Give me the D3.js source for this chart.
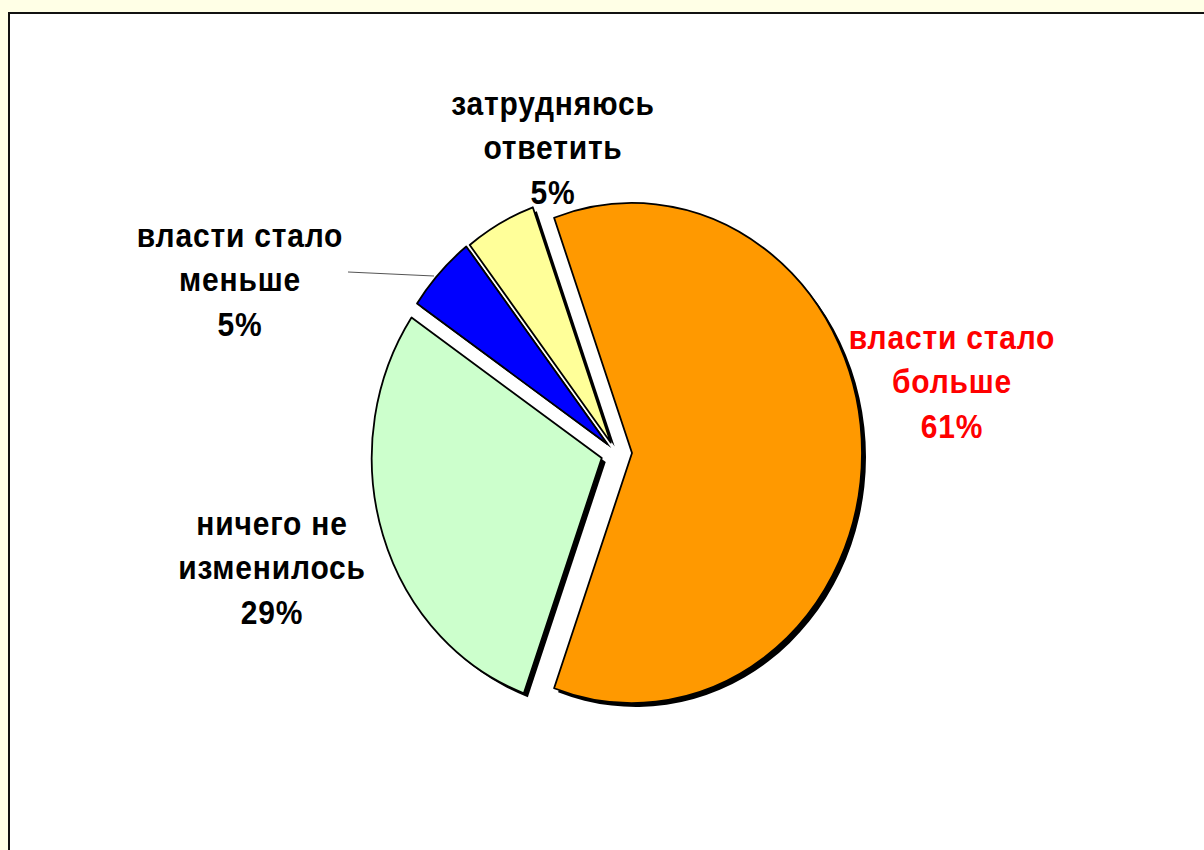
<!DOCTYPE html>
<html>
<head>
<meta charset="utf-8">
<script src="https://cdn.jsdelivr.net/npm/d3@7"></script>
<style>
  body { margin: 0; background: #ffffe6; }
  svg { display: block; }
</style>
</head>
<body>
<div id="chart"></div>
<script>
// slice data, clockwise from the first slice
const categories = ["власти стало больше", "ничего не изменилось", "власти стало меньше", "затрудняюсь ответить"];
const values = [61, 29, 5, 5];
const labelLines = [
    ["власти стало", "больше", "61%"],
    ["ничего не", "изменилось", "29%"],
    ["власти стало", "меньше", "5%"],
    ["затрудняюсь", "ответить", "5%"]
];
const sliceColors = ["#ff9900", "#ccffcc", "#0000ff", "#ffff99"];
const labelColors = ["#ff0000", "#000000", "#000000", "#000000"];
const explode = [16, 15, 12, 11];

const width = 1204;
const height = 850;
const cx = 616, cy = 453;
const rx = 230, ry = 250;
const startDeg = -19.8;

// label centres (layout only)
const labelPos = [
    { x: 952, y: 337 },
    { x: 272, y: 523 },
    { x: 240, y: 235 },
    { x: 553, y: 103 }
];
const lineGap = 44.5;
const textStretch = 1.1;

const svg = d3.select("#chart").append("svg")
    .attr("width", width)
    .attr("height", height);

svg.append("rect")
    .attr("width", width)
    .attr("height", height)
    .attr("fill", "#ffffe6");

svg.append("rect")
    .attr("x", 9)
    .attr("y", 13)
    .attr("width", width)
    .attr("height", height)
    .attr("fill", "#ffffff")
    .attr("stroke", "#111")
    .attr("stroke-width", 2);

const data = categories.map((c, i) => ({ name: c, value: values[i], i }));

const pie = d3.pie()
    .sort(null)
    .value(d => d.value)
    .startAngle(startDeg * Math.PI / 180)
    .endAngle(startDeg * Math.PI / 180 + 2 * Math.PI);

const arcs = pie(data);
const arc = d3.arc().innerRadius(0).outerRadius(rx);

function offset(d) {
    const a = (d.startAngle + d.endAngle) / 2;
    const e = explode[d.data.i];
    return [Math.sin(a) * e, -Math.cos(a) * e];
}

// shadows
const shadow = svg.append("g")
    .attr("transform", `translate(${cx + 4},${cy + 4}) scale(1,${ry / rx})`);
shadow.selectAll("path")
    .data(arcs)
    .enter().append("path")
    .attr("transform", d => `translate(${offset(d)})`)
    .attr("d", arc)
    .attr("fill", "#000");

// slices
const pieG = svg.append("g")
    .attr("transform", `translate(${cx},${cy}) scale(1,${ry / rx})`);
pieG.selectAll("path")
    .data(arcs)
    .enter().append("path")
    .attr("transform", d => `translate(${offset(d)})`)
    .attr("d", arc)
    .attr("fill", d => sliceColors[d.data.i])
    .attr("stroke", "#000")
    .attr("stroke-width", 1.8)
    .attr("stroke-linejoin", "round")
    .attr("vector-effect", "non-scaling-stroke");

// leader line for the small blue slice
svg.append("line")
    .attr("x1", 348).attr("y1", 272)
    .attr("x2", 434).attr("y2", 276)
    .attr("stroke", "#555")
    .attr("stroke-width", 1);

// labels
const labels = svg.append("g")
    .attr("font-family", "'Liberation Sans', Arial, sans-serif")
    .attr("font-weight", "bold")
    .attr("font-size", 30)
    .attr("letter-spacing", 0.8)
    .attr("text-anchor", "middle");

labelLines.forEach((lines, i) => {
    lines.forEach((ln, j) => {
        labels.append("text")
            .attr("transform", `translate(${labelPos[i].x},${labelPos[i].y + j * lineGap}) scale(1,${textStretch})`)
            .attr("dy", "0.35em")
            .attr("fill", labelColors[i])
            .text(ln);
    });
});
</script>
</body>
</html>
